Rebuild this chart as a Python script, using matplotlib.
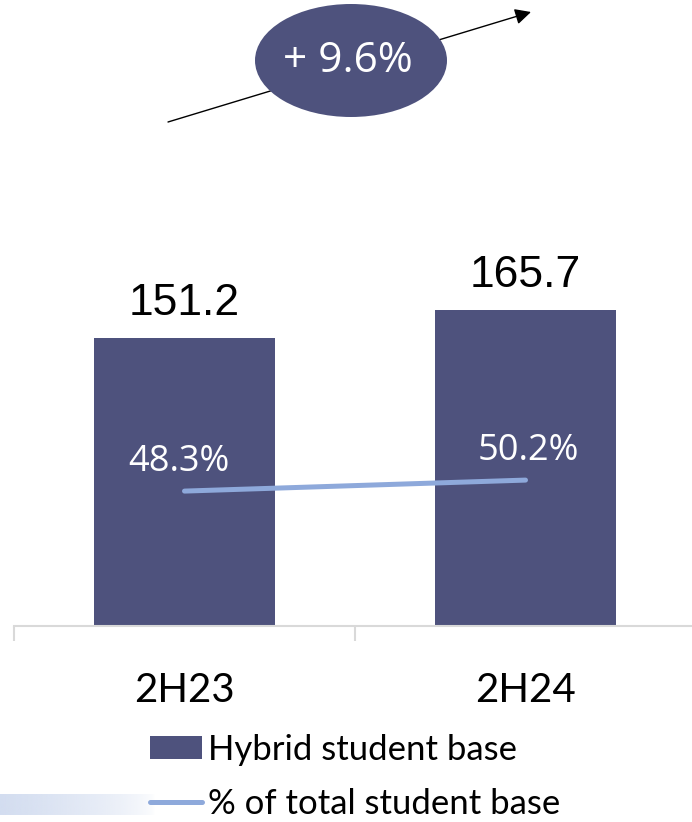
import matplotlib
matplotlib.use('Agg')
import matplotlib.pyplot as plt
import numpy as np
from matplotlib.patches import Ellipse, Patch
from matplotlib.lines import Line2D

# Data
periods = ['2H23', '2H24']
hybrid_base = [151.2, 165.7]        # hybrid student base
pct_of_total = [48.3, 50.2]         # % of total student base
growth_label = '+ 9.6%'

BAR_COLOR = '#4E527D'
LINE_COLOR = '#8EA9DB'
AXIS_GRAY = '#D9D9D9'

W, H = 692, 822
fig = plt.figure(figsize=(W / 100, H / 100), dpi=100)

# main bar axes (pixel layout converted to figure fractions)
ax = fig.add_axes([14 / W, (H - 626) / H, 682 / W, 381 / H])
x = np.arange(len(periods))
ax.bar(x, hybrid_base, width=0.528, color=BAR_COLOR, zorder=2)
ax.set_xlim(-0.5, 1.5)
ax.set_ylim(0, 200)
for s in ('top', 'right', 'left'):
    ax.spines[s].set_visible(False)
ax.spines['bottom'].set_color(AXIS_GRAY)
ax.spines['bottom'].set_linewidth(1.5)
ax.set_yticks([])
ax.set_xticks([-0.5, 0.5, 1.5])
ax.set_xticklabels([])
ax.tick_params(axis='x', direction='out', length=11, width=1.5, color=AXIS_GRAY)

for i, v in enumerate(hybrid_base):
    ax.annotate(f'{v:.1f}', xy=(i, v), xytext=(0, 16.5), textcoords='offset points',
                ha='center', va='baseline', fontsize=32, family='Liberation Sans',
                color='black')

for i, lab in enumerate(periods):
    ax.annotate(lab, xy=(i, 0), xytext=(0, -54.7), textcoords='offset points',
                ha='center', va='baseline', fontsize=29, family='Lato',
                color='black', annotation_clip=False)

# share of total on a secondary axis
ax2 = ax.twinx()
ax2.set_ylim(25, 25 + 381 / 5.79)
ax2.axis('off')
ax2.plot(x, pct_of_total, color=LINE_COLOR, lw=3.6, solid_capstyle='round', zorder=3)
for i, v in enumerate(pct_of_total):
    ax2.annotate(f'{v:.1f}%', xy=(i, v), xytext=(-4 if i == 0 else 2, 14.4),
                 textcoords='offset points', ha='center', va='baseline',
                 fontsize=26, family='Open Sans', color='white')

# growth badge with arrow across the top
top = fig.add_axes([0, 0, 1, 1], zorder=5)
top.set_xlim(0, W)
top.set_ylim(H, 0)
top.axis('off')
top.patch.set_alpha(0)
top.annotate('', xy=(531, 12), xytext=(168, 122),
             arrowprops=dict(arrowstyle='-|>', color='black', lw=1.0,
                             mutation_scale=24, shrinkA=0, shrinkB=0))
top.add_patch(Ellipse((351, 60.5), 192, 113, facecolor=BAR_COLOR, edgecolor='none', zorder=3))
top.text(348, 61, growth_label, ha='center', va='center', fontsize=30.5,
         family='Open Sans', color='white', zorder=4)

# faded band at lower left
band = fig.add_axes([0, (H - 815) / H, 155 / W, 21 / H], zorder=1)
grad = np.zeros((1, 256, 4))
grad[..., :3] = matplotlib.colors.to_rgb('#D3DDF0')
grad[..., 3] = np.linspace(1.0, 0.0, 256) ** 0.6
band.imshow(grad, aspect='auto', extent=(0, 1, 0, 1))
band.axis('off')

# legend
handles = [Patch(facecolor=BAR_COLOR, edgecolor='none'),
           Line2D([], [], color=LINE_COLOR, lw=3.6, solid_capstyle='round')]
labels = ['Hybrid student base', '% of total student base']
fig.legend(handles, labels, loc='upper left', bbox_to_anchor=(150 / W, (H - 734) / H),
           frameon=False, prop=dict(family='Lato', size=25), handlelength=1.5,
           handleheight=0.63, handletextpad=0.17, labelspacing=0.63,
           borderpad=0, borderaxespad=0)

fig.savefig('out.png', dpi=100)
